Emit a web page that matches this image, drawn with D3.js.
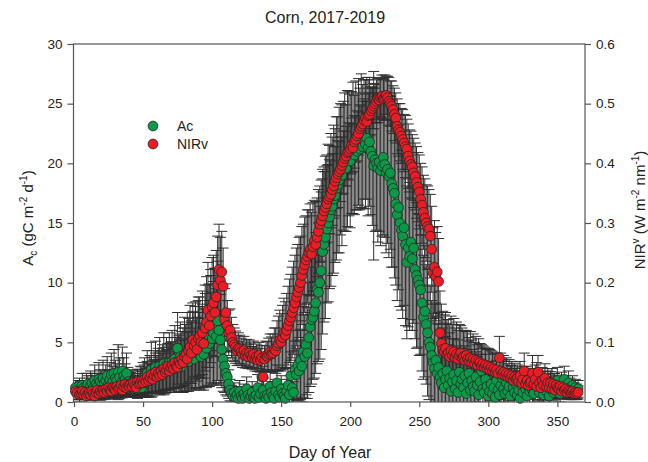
<!DOCTYPE html>
<html><head><meta charset="utf-8">
<script src="https://cdn.jsdelivr.net/npm/d3@7"></script>
<style>body{margin:0;background:#fff}svg{font-family:"Liberation Sans",Arial,sans-serif}</style>
</head><body><svg id="c" width="648" height="462"></svg>
<script>
const title = "Corn, 2017-2019";
const xTicks = [0,50,100,150,200,250,300,350];
const yLeftTicks = [0,5,10,15,20,25,30];
const yRightTicks = [0,0.1,0.2,0.3,0.4,0.5,0.6];
const seriesNames = ["Ac","NIRv"];
// Ac, gC m-2 d-1, day 1..365
const ac = [
1.2,1.0,1.3,1.1,0.9,1.4,1.2,1.0,1.3,1.5, 1.1,1.4,1.6,1.2,1.8,1.5,1.3,1.9,1.7,1.4,
2.0,1.6,1.8,2.2,1.5,1.9,2.3,1.7,2.4,2.0, 1.8,2.5,2.1,1.6,2.6,2.2,1.9,2.4,1.7,1.5,
1.3,1.6,1.2,1.4,1.1,1.5,1.3,1.7,1.2,1.9, 2.1,1.6,2.4,1.8,2.2,2.7,2.0,2.5,2.9,2.3,
2.6,3.0,2.4,2.8,3.2,2.5,3.1,2.7,3.3,2.9, 3.4,2.8,3.6,3.1,4.5,3.3,3.8,3.0,3.5,4.0,
3.7,4.2,3.4,4.6,3.9,4.4,3.6,4.8,4.1,5.0, 4.3,3.8,4.7,4.0,5.2,4.5,5.6,4.9,6.1,5.3,
5.8,6.4,5.5,6.8,6.0,5.2,4.4,3.6,3.0,2.4, 2.1,1.5,1.0,0.7,0.5,0.8,0.4,0.6,0.3,0.9,
0.5,0.3,0.7,0.4,1.1,0.6,0.3,0.5,0.8,0.4, 0.3,0.6,1.2,0.4,0.7,2.1,1.0,0.5,0.3,0.6,
0.4,1.3,0.8,0.5,0.3,0.9,1.6,0.6,0.4,1.1, 0.7,0.5,0.3,0.9,1.4,0.6,2.2,1.2,0.8,2.7,
2.3,3.1,2.6,3.5,3.0,4.2,3.8,4.8,4.1,5.4, 6.3,6.9,7.1,7.6,8.3,9.4,9.2,10.0,11.0,12.6,
13.2,13.8,14.5,15.0,15.5,16.1,16.4,17.0,17.3,17.9, 18.2,18.6,19.5,19.0,19.8,20.1,19.6,20.4,20.8,20.2,
20.9,21.3,20.7,21.5,21.0,21.8,21.2,21.9,21.4,22.0, 21.6,22.1,21.3,21.8,21.0,20.6,19.8,20.3,20.0,19.6,
20.1,19.4,19.8,20.5,19.9,19.2,19.5,18.9,19.2,18.3, 17.9,17.5,16.6,15.7,16.3,15.0,14.4,13.9,14.6,13.2,
11.7,12.9,12.2,13.4,12.0,12.9,11.1,10.6,10.2,9.8, 9.4,8.3,7.1,7.6,6.5,5.8,5.0,4.6,3.9,3.3,
2.8,3.5,2.4,2.9,2.1,1.6,2.4,1.2,1.9,2.6, 1.4,2.0,0.9,1.7,2.3,1.1,1.8,0.8,2.5,1.5,
1.9,1.2,2.2,0.7,1.6,2.4,1.0,1.8,1.3,0.9, 2.1,1.4,0.6,1.7,2.6,1.1,0.8,1.9,1.3,0.5,
0.9,1.5,0.7,1.2,0.4,1.8,1.0,0.6,1.4,2.0, 1.1,0.7,1.6,0.9,1.3,0.5,1.9,1.2,0.8,1.5,
0.6,1.0,0.3,1.4,0.8,1.7,1.1,0.5,1.3,0.9, 1.6,1.0,0.7,1.4,1.9,1.2,0.8,1.5,1.1,0.6,
1.3,0.9,1.7,0.5,1.2,1.6,0.8,1.4,1.0,1.8, 1.2,0.7,1.5,1.1,1.9,1.3,0.9,1.6,1.2,0.8,
1.4,1.0,1.2,0.9,1.1];
const acErr = [
0.6,0.8,0.5,0.9,0.7,1.0,0.6,0.8,1.1,0.7, 0.9,1.2,0.8,1.0,1.3,0.9,1.1,1.4,1.0,1.2,
1.5,1.1,1.3,1.6,1.2,1.4,1.8,1.3,2.0,1.5, 1.4,2.3,1.6,1.2,2.0,1.5,1.3,1.7,1.2,1.0,
0.9,1.1,0.8,1.0,0.7,1.2,0.9,1.3,0.8,1.4, 1.6,1.2,1.9,1.4,1.7,2.3,1.5,1.8,2.2,1.6,
1.9,2.4,1.7,2.0,2.6,1.8,2.3,1.9,2.5,2.1, 2.6,2.0,2.8,2.3,3.0,2.4,2.9,2.2,2.7,3.1,
2.8,3.3,2.5,3.5,2.9,3.2,2.6,3.6,3.0,3.8, 3.2,2.8,3.5,3.0,3.9,3.3,4.2,3.6,4.5,3.9,
4.3,4.8,4.0,5.0,4.4,3.8,3.2,2.7,2.2,1.8, 1.6,1.2,0.9,0.7,0.6,0.8,0.5,0.7,0.4,0.9,
0.6,0.4,0.8,0.5,1.0,0.7,0.4,0.6,0.9,0.5, 0.4,0.7,1.1,0.5,0.8,1.6,1.0,0.6,0.4,0.7,
0.5,1.2,0.9,0.6,0.4,1.0,1.5,0.7,0.5,1.1, 0.8,0.6,0.4,1.0,1.4,0.7,2.0,1.3,0.9,2.4,
2.2,2.9,2.5,3.3,3.0,3.8,3.5,4.2,3.8,4.6, 5.0,5.4,5.2,5.6,5.9,6.2,5.8,6.4,6.6,6.9,
6.5,6.8,6.2,6.6,6.0,6.4,5.8,6.2,5.6,6.0, 5.7,6.1,5.5,5.9,5.4,5.8,5.3,5.7,5.2,5.6,
5.1,5.5,5.0,5.4,4.9,5.3,5.1,5.6,5.2,5.0, 5.4,5.1,5.7,5.4,5.3,5.8,7.9,6.0,5.6,6.2,
5.8,6.3,5.9,6.5,6.1,6.7,6.2,6.8,6.4,7.0, 6.6,7.1,6.8,7.2,6.9,7.0,6.7,6.9,6.5,6.8,
6.4,6.6,6.2,6.5,6.0,6.3,5.8,6.1,5.6,5.9, 5.4,5.7,5.2,5.5,5.0,5.3,4.8,5.1,4.6,4.9,
4.4,4.8,4.2,4.6,4.0,4.4,3.8,4.2,3.6,4.0, 3.4,3.8,3.2,3.6,3.0,3.4,2.9,3.2,2.7,3.0,
2.6,2.9,2.5,2.8,2.4,2.7,2.3,2.6,2.2,2.5, 2.1,2.4,2.0,2.3,1.9,2.2,1.8,2.1,1.7,2.0,
1.6,1.9,1.5,1.8,1.4,1.7,1.3,1.6,1.2,1.5, 1.1,1.4,1.0,1.3,1.2,1.5,1.1,1.4,1.0,1.3,
0.9,1.2,0.8,1.1,1.0,1.3,0.9,1.2,0.8,1.1, 1.0,1.3,0.9,1.2,1.4,1.1,0.8,1.0,0.9,0.7,
1.0,0.8,1.1,0.6,0.9,1.2,0.7,1.0,0.8,1.1, 0.9,0.7,1.0,0.8,1.1,0.9,0.7,1.0,0.8,0.6,
0.8,0.6,0.7,0.6,0.7];
// NIRv, W m-2 nm-1, day 1..365
const nirv = [
.018,.014,.016,.012,.014,.018,.012,.016,.010,.014, .016,.012,.018,.014,.010,.016,.020,.014,.018,.016,
.020,.016,.022,.018,.024,.020,.018,.024,.022,.020, .026,.022,.024,.028,.020,.026,.030,.024,.028,.026,
.030,.026,.032,.028,.024,.034,.030,.032,.036,.032, .038,.034,.042,.036,.040,.046,.038,.044,.050,.042,
.048,.044,.052,.046,.056,.050,.054,.060,.052,.058, .062,.056,.066,.060,.058,.068,.064,.072,.066,.076,
.080,.072,.086,.092,.082,.104,.094,.100,.088,.106, .110,.100,.116,.098,.124,.134,.154,.128,.144,.160,
.166,.150,.176,.196,.222,.204,.218,.194,.138,.150, .128,.116,.120,.108,.100,.096,.092,.086,.090,.088,
.084,.080,.086,.078,.082,.076,.082,.078,.074,.080, .072,.076,.070,.078,.070,.074,.042,.072,.078,.076,
.080,.084,.080,.082,.088,.086,.094,.098,.104,.100, .108,.116,.112,.120,.128,.136,.142,.150,.158,.166,
.176,.184,.192,.200,.212,.222,.230,.238,.244,.250, .256,.248,.260,.270,.264,.276,.286,.298,.304,.312,
.320,.326,.332,.340,.344,.348,.356,.362,.370,.376, .382,.386,.390,.396,.402,.408,.412,.418,.420,.424,
.430,.426,.436,.440,.446,.450,.458,.462,.466,.472, .476,.470,.480,.482,.488,.492,.496,.500,.504,.508,
.506,.510,.512,.508,.510,.514,.510,.504,.500,.496, .490,.482,.476,.462,.456,.452,.446,.440,.434,.428,
.424,.412,.404,.398,.394,.384,.378,.368,.360,.352, .340,.330,.318,.308,.300,.294,.290,.278,.256,.216,
.226,.210,.218,.202,.116,.098,.088,.084,.090,.080, .082,.076,.086,.078,.084,.074,.080,.072,.078,.082,
.074,.076,.070,.078,.072,.068,.074,.066,.072,.064, .070,.062,.068,.066,.060,.064,.058,.062,.056,.060,
.054,.058,.052,.056,.050,.054,.048,.074,.052,.046, .050,.044,.048,.042,.046,.040,.044,.036,.042,.038,
.040,.034,.044,.032,.038,.052,.030,.036,.028,.032, .034,.048,.030,.038,.026,.050,.032,.024,.036,.028,
.040,.026,.032,.024,.032,.022,.030,.020,.028,.024, .022,.026,.018,.024,.020,.022,.016,.020,.018,.016,
.018,.014,.016,.014,.016];
const nirvErr = [
.008,.010,.007,.012,.009,.011,.008,.010,.013,.009, .011,.009,.012,.010,.014,.011,.013,.010,.015,.012,
.014,.012,.016,.013,.017,.014,.012,.016,.013,.015, .017,.014,.018,.015,.013,.017,.019,.015,.018,.016,
.019,.016,.020,.017,.015,.021,.018,.020,.023,.019, .024,.020,.026,.022,.025,.029,.023,.027,.032,.026,
.030,.027,.033,.028,.035,.031,.034,.038,.032,.036, .039,.034,.042,.037,.036,.043,.040,.046,.041,.048,
.050,.045,.054,.058,.051,.062,.056,.060,.053,.064, .066,.060,.070,.058,.072,.076,.080,.070,.078,.082,
.080,.074,.078,.082,.076,.072,.068,.064,.052,.048, .042,.038,.036,.034,.030,.028,.027,.025,.026,.024,
.023,.022,.024,.021,.023,.020,.022,.021,.019,.022, .020,.021,.019,.022,.020,.021,.018,.022,.024,.025,
.027,.030,.029,.032,.036,.038,.042,.046,.050,.048, .054,.058,.056,.062,.066,.070,.072,.076,.078,.080,
.082,.080,.084,.078,.082,.076,.080,.074,.078,.072, .076,.070,.074,.068,.072,.066,.070,.064,.068,.062,
.066,.060,.064,.058,.062,.056,.060,.054,.058,.052, .056,.050,.054,.048,.052,.046,.050,.044,.048,.042,
.046,.040,.044,.038,.042,.036,.040,.034,.038,.036, .040,.034,.038,.036,.040,.034,.038,.032,.036,.034,
.038,.032,.036,.034,.038,.032,.036,.040,.038,.042, .040,.044,.042,.046,.044,.048,.046,.050,.048,.052,
.050,.054,.052,.056,.054,.058,.056,.060,.058,.062, .060,.064,.062,.066,.064,.068,.066,.070,.072,.076,
.078,.074,.076,.072,.070,.066,.064,.062,.060,.058, .056,.054,.058,.052,.056,.050,.054,.048,.052,.046,
.050,.044,.048,.042,.046,.040,.044,.038,.042,.036, .040,.034,.038,.032,.036,.030,.034,.028,.032,.030,
.034,.028,.032,.026,.030,.028,.032,.036,.030,.026, .028,.024,.026,.022,.025,.021,.024,.020,.023,.019,
.022,.018,.024,.017,.021,.030,.019,.023,.016,.020, .022,.030,.018,.024,.016,.028,.019,.015,.022,.017,
.024,.016,.020,.015,.019,.014,.018,.013,.017,.015, .014,.016,.012,.015,.013,.014,.011,.013,.012,.011,
.012,.010,.011,.010,.011];

const svg = d3.select("#c");
const L = 73.5, R = 585, T = 44, B = 402;
const x = d3.scaleLinear().domain([0, 370]).range([74, 585]);
const yL = d3.scaleLinear().domain([0, 30]).range([B, T]);
const yR = d3.scaleLinear().domain([0, 0.6]).range([B, T]);
const green = "#0a9a47", red = "#ec1c24";

svg.append("defs").append("clipPath").attr("id","pc")
  .append("rect").attr("x", L).attr("y", T).attr("width", R - L).attr("height", B - T);

const acData = ac.map((v, i) => ({d: i + 1, v, e: acErr[i]}));
const nirData = nirv.map((v, i) => ({d: i + 1, v, e: nirvErr[i]}));

const gBars = svg.append("g").attr("clip-path", "url(#pc)")
  .attr("stroke", "#2e2e2e").attr("stroke-width", 1).attr("fill", "none");
function bars(data, y) {
  const g = gBars.append("g");
  const cw = 5.5;
  g.selectAll("path").data(data).join("path")
    .attr("d", p => {
      const cx = x(p.d), y1 = y(p.v + p.e), y0 = y(Math.max(p.v - p.e, -1));
      return `M${cx},${y0}V${y1}M${cx - cw},${y1}H${cx + cw}M${cx - cw},${y0}H${cx + cw}`;
    });
}
bars(acData, yL);
bars(nirData, yR);

function pts(data, y, col) {
  svg.append("g").selectAll("circle").data(data).join("circle")
    .attr("cx", p => x(p.d)).attr("cy", p => y(p.v)).attr("r", 4.9)
    .attr("fill", col).attr("stroke", "#262626").attr("stroke-width", 0.8);
}
pts(acData, yL, green);
pts(nirData, yR, red);

// frame
svg.append("rect").attr("x", L).attr("y", T).attr("width", R - L).attr("height", B - T)
  .attr("fill", "none").attr("stroke", "#555").attr("stroke-width", 1.2);

const fs = "13.5px";
const axB = svg.append("g").attr("transform", `translate(0,${B})`)
  .call(d3.axisBottom(x).tickValues(xTicks).tickSize(5).tickPadding(9));
const axLft = svg.append("g").attr("transform", `translate(${L},0)`)
  .call(d3.axisLeft(yL).tickValues(yLeftTicks).tickSize(6).tickPadding(5));
const axRt = svg.append("g").attr("transform", `translate(${R},0)`)
  .call(d3.axisRight(yR).tickValues(yRightTicks).tickSize(6).tickPadding(5).tickFormat(d3.format(".1f")));
[axB, axLft, axRt].forEach(a => {
  a.select(".domain").remove();
  a.selectAll("line").attr("stroke", "#555").attr("stroke-width", 1.2);
  a.selectAll("text").attr("font-size", fs).attr("fill", "#222")
    .attr("font-family", '"Liberation Sans",Arial,sans-serif');
});

svg.append("text").attr("x", 325).attr("y", 23).attr("text-anchor", "middle")
  .attr("font-size", "16px").attr("fill", "#222").text(title);
svg.append("text").attr("x", 330).attr("y", 458).attr("text-anchor", "middle")
  .attr("font-size", "16px").attr("fill", "#222").text("Day of Year");

const yl = svg.append("text").attr("transform", "translate(33,218) rotate(-90)")
  .attr("text-anchor", "middle").attr("font-size", "15px").attr("fill", "#222");
yl.append("tspan").text("A");
yl.append("tspan").attr("font-size", "10px").attr("dy", 4).text("c");
yl.append("tspan").attr("dy", -4).text(" (gC m");
yl.append("tspan").attr("font-size", "10px").attr("dy", -6).text("-2");
yl.append("tspan").attr("dy", 6).text(" d");
yl.append("tspan").attr("font-size", "10px").attr("dy", -6).text("-1");
yl.append("tspan").attr("dy", 6).text(")");

const yr = svg.append("text").attr("transform", "translate(645,210) rotate(-90)")
  .attr("text-anchor", "middle").attr("font-size", "15px").attr("fill", "#222");
yr.append("tspan").text("NIR");
yr.append("tspan").attr("font-size", "10px").attr("dy", -6).text("v");
yr.append("tspan").attr("dy", 6).text(" (W m");
yr.append("tspan").attr("font-size", "10px").attr("dy", -6).text("-2");
yr.append("tspan").attr("dy", 6).text(" nm");
yr.append("tspan").attr("font-size", "10px").attr("dy", -6).text("-1");
yr.append("tspan").attr("dy", 6).text(")");

const leg = svg.append("g");
[[green, seriesNames[0]], [red, seriesNames[1]]].forEach(([c, n], i) => {
  leg.append("circle").attr("cx", 153).attr("cy", 126 + i * 18).attr("r", 4.9)
    .attr("fill", c).attr("stroke", "#262626").attr("stroke-width", 0.8);
  leg.append("text").attr("x", 177).attr("y", 131 + i * 18).attr("font-size", "14px")
    .attr("fill", "#222").text(n);
});
</script></body></html>
